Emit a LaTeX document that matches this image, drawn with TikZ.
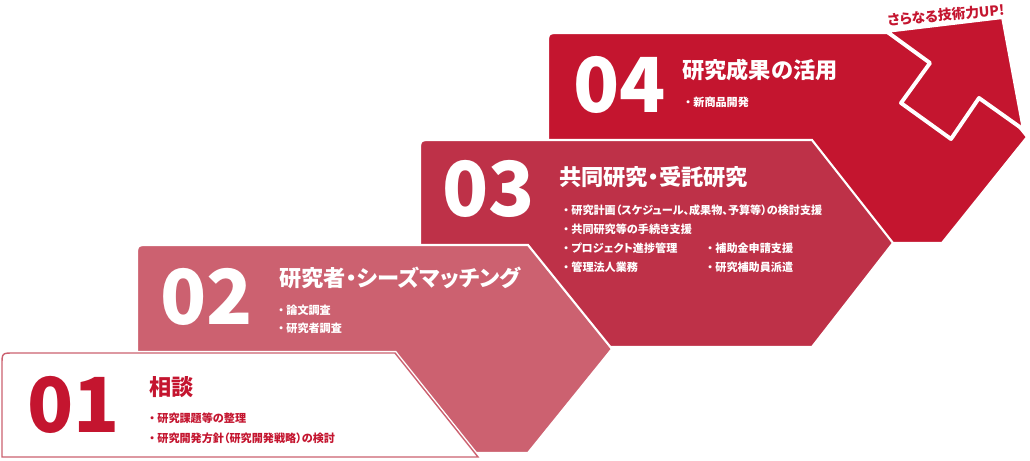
\documentclass[tikz,border=0pt]{standalone}
\usepackage{fontspec}
\usepackage{tikz}
\usetikzlibrary{positioning}
\newfontfamily\jpfont{Noto Sans CJK JP}[RawFeature=+palt]
\definecolor{paleRed}{RGB}{204,97,112}
\definecolor{midRed}{RGB}{190,49,72}
\definecolor{deepRed}{RGB}{196,21,47}
\tikzset{
	stage/.style={draw=white, line width=1.5pt, line join=miter},
	stepnum/.style={anchor=west, inner sep=0pt, font=\jpfont\bfseries\fontsize{54}{54}\selectfont},
	stephead/.style={anchor=west, inner sep=0pt, font=\jpfont\bfseries\fontsize{15.8}{16}\selectfont},
	stepitem/.style={anchor=west, inner sep=0pt, font=\jpfont\bfseries\fontsize{7.9}{8}\selectfont},
}
\begin{document}
\begin{tikzpicture}[x=0.025cm, y=-0.025cm]
	\useasboundingbox (0,0) rectangle (1030,460);

	% step 04 and the arrow
	\draw[stage, fill=deepRed] (548,243) -- (548,45) .. controls (548,33) .. (560,33) -- (942,33) -- (1027,137) -- (942,243) -- cycle;
	\draw[stage, fill=deepRed, line width=2.8pt, line join=round] (886,31) -- (1003,17) -- (1024,130) -- (979,98) -- (951,139) -- (901,103) -- (930,63) -- cycle;
	\node[inner sep=0pt, rotate=5, text=deepRed, font=\jpfont\bfseries\fontsize{9.8}{10}\selectfont] (up) at (946,15) {さらなる技術力UP!};

	% step 03
	\draw[stage, fill=midRed] (420,347) -- (420,152) .. controls (420,140) .. (432,140) -- (812,140) -- (893,243) -- (812,347) -- cycle;

	% step 02
	\draw[stage, fill=paleRed] (137,453) -- (137,257) .. controls (137,245) .. (149,245) -- (528,245) -- (612,349) -- (528,453) -- cycle;

	% step 01
	\draw[draw=white, line width=1pt, double=paleRed, double distance=1pt, fill=white] (2,457) -- (2,365) .. controls (2,353) .. (14,353) -- (395,353) -- (478,457) -- cycle;

	\node[stepnum, text=deepRed] (n1) at (27,405) {01};
	\node[stephead, text=deepRed] (h1) at (149,387) {相談};
	\node[stepitem, text=deepRed] (a1) at (149,418) {・ 研究課題等の整理};
	\node[stepitem, text=deepRed] (a2) at (149,438) {・ 研究開発方針（研究開発戦略）の検討};

	\node[stepnum, text=white] (n2) at (160,297) {02};
	\node[stephead, text=white] (h2) at (279,278) {研究者・シーズマッチング};
	\node[stepitem, text=white] (b1) at (278,310) {・ 論文調査};
	\node[stepitem, text=white] (b2) at (278,328) {・ 研究者調査};

	\node[stepnum, text=white] (n3) at (442,189) {03};
	\node[stephead, text=white] (h3) at (559,177) {共同研究・受託研究};
	\node[stepitem, text=white] (c1) at (563,210) {・ 研究計画（スケジュール、成果物、予算等）の検討支援};
	\node[stepitem, text=white] (c2) at (563,229) {・ 共同研究等の手続き支援};
	\node[stepitem, text=white] (c3) at (563,248) {・ プロジェクト進捗管理};
	\node[stepitem, text=white] (c4) at (563,267) {・ 管理法人業務};
	\node[stepitem, text=white] (c5) at (707,248) {・ 補助金申請支援};
	\node[stepitem, text=white] (c6) at (707,267) {・ 研究補助員派遣};

	\node[stepnum, text=white] (n4) at (573,85) {04};
	\node[stephead, text=white] (h4) at (682,70) {研究成果の活用};
	\node[stepitem, text=white] (d1) at (685,102) {・ 新商品開発};
\end{tikzpicture}
\end{document}
